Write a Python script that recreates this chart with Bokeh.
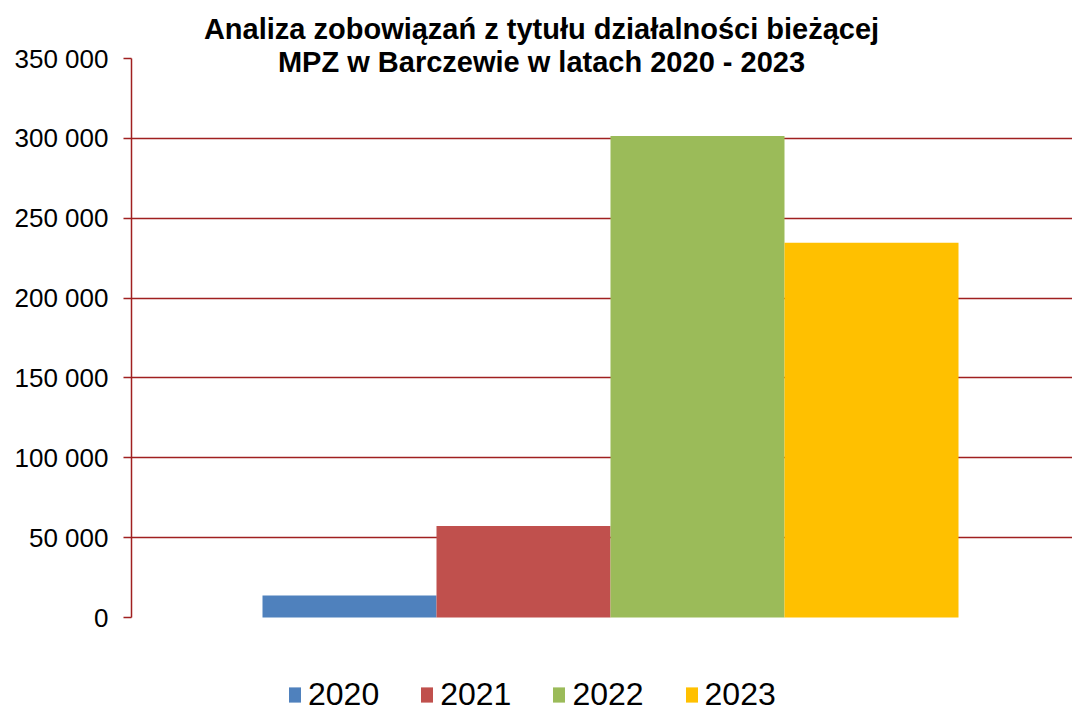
from bokeh.plotting import figure
from bokeh.models import Range1d, FixedTicker, Legend, LegendItem, Label, ColumnDataSource
from bokeh.embed import file_html
from bokeh.resources import INLINE

# ---- data ----
years = ["2020", "2021", "2022", "2023"]
values = [13700, 57300, 301500, 234700]
colors = ["#4F81BD", "#C0504D", "#9BBB59", "#FFC000"]
y_ticks = [0, 50000, 100000, 150000, 200000, 250000, 300000, 350000]
title_lines = ["Analiza zobowiązań z tytułu działalności bieżącej",
               "MPZ w Barczewie w latach 2020 - 2023"]

FONT = "Liberation Sans"
AXIS_RED = "#A02020"

W, H = 1072, 711
LEFT = 131           # frame left edge (px)
ZERO_PX = 617        # pixel row of value 0 (from top)
TOP_PX = 58          # pixel row of value 350 000
per_px = (y_ticks[-1] - y_ticks[0]) / (ZERO_PX - TOP_PX)
y_start = y_ticks[0] - (H - ZERO_PX) * per_px
y_end = y_ticks[-1] + TOP_PX * per_px

bar_px = 174.0
first_left_px = 262
x_start = -0.5 - (first_left_px - LEFT) / bar_px
x_end = x_start + (W - LEFT) / bar_px

p = figure(width=W, height=H, output_backend="svg", toolbar_location=None,
           x_range=Range1d(x_start, x_end), y_range=Range1d(y_start, y_end),
           min_border_left=LEFT, min_border_right=0, min_border_top=0,
           min_border_bottom=0)
p.outline_line_color = None
p.background_fill_color = "white"

renderers = []
for i, (yr, v, c) in enumerate(zip(years, values, colors)):
    src = ColumnDataSource(dict(x=[i], top=[v]))
    r = p.vbar(x="x", top="top", bottom=0, width=1.0, source=src,
               fill_color=c, line_color=None)
    renderers.append((yr, r))

# axes
p.xaxis.visible = False
p.xgrid.visible = False
yax = p.yaxis[0]
yax.bounds = (y_ticks[0], y_ticks[-1])
yax.ticker = FixedTicker(ticks=y_ticks)
yax.major_label_overrides = {t: f"{t:,}".replace(",", " ") for t in y_ticks}
yax.major_label_text_font = FONT
yax.major_label_text_font_size = "26px"
yax.major_label_text_color = "black"
yax.major_label_standoff = 15
yax.axis_line_color = AXIS_RED
yax.axis_line_width = 1.5
yax.major_tick_line_color = AXIS_RED
yax.major_tick_line_width = 1.5
yax.major_tick_out = 8
yax.major_tick_in = 0
yax.minor_tick_line_color = None

p.ygrid.ticker = FixedTicker(ticks=y_ticks[1:-1])
p.ygrid.grid_line_color = AXIS_RED
p.ygrid.grid_line_width = 1.5

# legend
legend = Legend(items=[LegendItem(label=yr, renderers=[r]) for yr, r in renderers],
                orientation="horizontal", location=(156, -2),
                glyph_width=15, glyph_height=19, label_standoff=6, spacing=40,
                padding=0, margin=0, border_line_color=None,
                background_fill_alpha=0,
                label_text_font=FONT, label_text_font_size="32px",
                label_text_color="black")
p.add_layout(legend, "center")

# title as two centered lines
for line, ypos in zip(title_lines, [683, 649.5]):
    p.add_layout(Label(x=410, y=ypos, x_units="screen", y_units="screen", text=line,
                       text_align="center", text_baseline="middle", text_font=FONT,
                       text_font_size="29px", text_font_style="bold",
                       text_color="black"))

open("out.html", "w").write(file_html(p, INLINE))
